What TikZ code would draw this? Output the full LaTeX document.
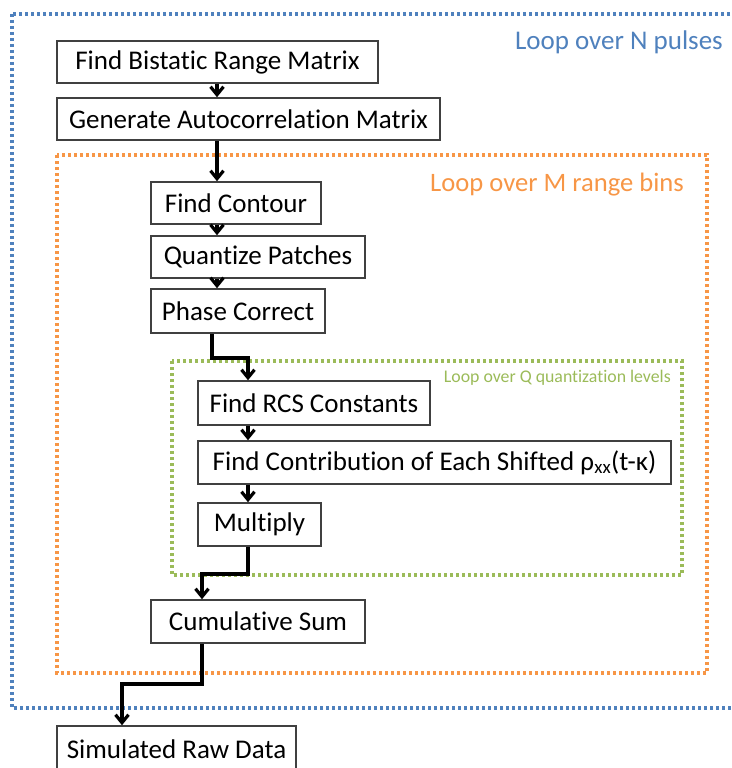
\documentclass[tikz,border=0pt]{standalone}
\usepackage{fontspec}
\setmainfont{Carlito}[Ligatures=NoCommon]
\usetikzlibrary{arrows.meta}
\definecolor{loopblue}{RGB}{79,129,189}
\definecolor{looporange}{RGB}{247,150,70}
\definecolor{loopgreen}{RGB}{155,187,89}
\tikzset{
  stepbox/.style={draw=black!75, line width=1.5pt, fill=white, inner sep=0pt,
    font=\fontsize{27}{32}\selectfont, text=black, anchor=center},
  arr/.style={line width=3.2pt, black, -{Straight Barb[length=8pt,width=13pt]}},
  loopline/.style={line width=3.2pt, dash pattern=on 3pt off 3pt},
}
\begin{document}
\begin{tikzpicture}[x=1pt,y=-1pt]
\useasboundingbox (0,0) rectangle (731,768);
\clip (0,0) rectangle (731,768);

% loop frames
\draw[loopline, loopblue] (12,14) rectangle (760,708);
\draw[loopline, looporange] (57,155) rectangle (707,673);
\draw[loopline, loopgreen] (172,361) rectangle (682,575);

% loop labels
\node[text=loopblue, font=\fontsize{27}{32}\selectfont, anchor=east, inner sep=0pt] (lblN) at (723,42) {Loop over N pulses};
\node[text=looporange, font=\fontsize{26.6}{32}\selectfont, anchor=east, inner sep=0pt] (lblM) at (684,185) {Loop over M range bins};
\node[text=loopgreen, font=\fontsize{17.8}{21}\selectfont, anchor=east, inner sep=0pt] (lblQ) at (671,378) {Loop over Q quantization levels};

% processing steps
\node[stepbox, minimum width=321pt, minimum height=42pt] (bist) at (217.5,62) {Find Bistatic Range Matrix};
\node[stepbox, minimum width=383pt, minimum height=42pt] (auto) at (248.5,119) {Generate Autocorrelation Matrix};
\node[stepbox, minimum width=170pt, minimum height=42pt] (cont) at (236,203) {Find Contour};
\node[stepbox, minimum width=214pt, minimum height=42pt] (quan) at (258,257) {Quantize Patches};
\node[stepbox, minimum width=174pt, minimum height=44pt] (phas) at (238,311) {Phase Correct};
\node[stepbox, minimum width=232pt, minimum height=44pt] (rcs) at (314,403) {Find RCS Constants};
\node[stepbox, minimum width=473pt, minimum height=43pt] (contr) at (434.5,462.5) {Find Contribution of Each Shifted ρ\textsubscript{xx}(t-κ)};
\node[stepbox, minimum width=123pt, minimum height=43pt] (mult) at (259.5,524.5) {Multiply};
\node[stepbox, minimum width=214pt, minimum height=43pt] (csum) at (258,621.5) {Cumulative Sum};
\node[stepbox, minimum width=239pt, minimum height=46pt] (raw) at (176.5,749) {Simulated Raw Data};

% connector columns and bends
\coordinate (colA) at (217,0);
\coordinate (colB) at (248,0);
\coordinate (bendA1) at (212,358);
\coordinate (bendA2) at (248,358);
\coordinate (bendB1) at (248,574);
\coordinate (bendB2) at (202,574);
\coordinate (bendC1) at (202,684);
\coordinate (bendC2) at (122,684);

% connectors
\draw[arr] (bist.south -| colA) -- (auto.north -| colA);
\draw[arr] (auto.south -| colA) -- (cont.north -| colA);
\draw[arr] (cont.south -| colA) -- (quan.north -| colA);
\draw[arr] (quan.south -| colA) -- (phas.north -| colA);
\draw[arr] (phas.south -| bendA1) -- (bendA1) -- (bendA2) -- (rcs.north -| bendA2);
\draw[arr] (rcs.south -| colB) -- (contr.north -| colB);
\draw[arr] (contr.south -| colB) -- (mult.north -| colB);
\draw[arr] (mult.south -| bendB1) -- (bendB1) -- (bendB2) -- (csum.north -| bendB2);
\draw[arr] (csum.south -| bendC1) -- (bendC1) -- (bendC2) -- (raw.north -| bendC2);
\end{tikzpicture}
\end{document}
